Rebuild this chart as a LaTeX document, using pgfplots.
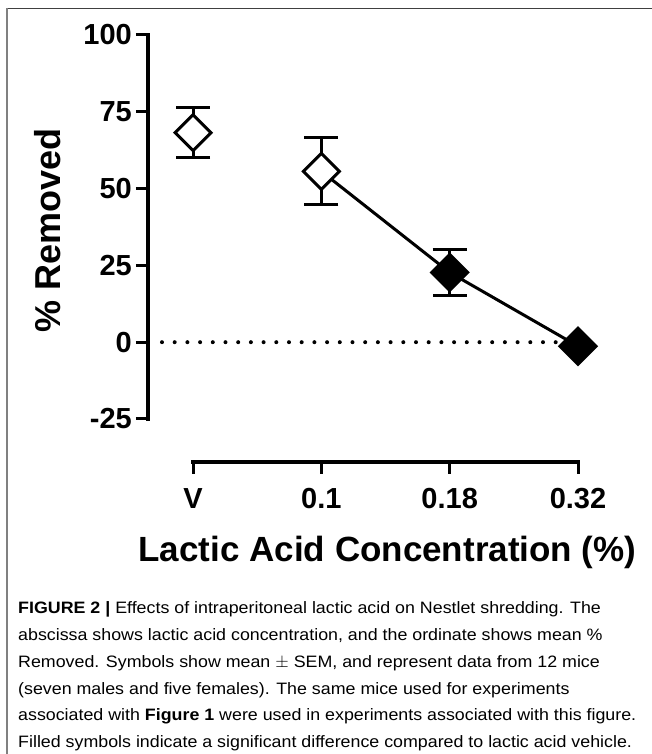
\documentclass[border=0pt]{standalone}
\usepackage{fontspec}
\setmainfont{Liberation Sans}
\newfontfamily\capfont{Liberation Sans}[FakeStretch=1.08]
\usepackage{pgfplots}
\pgfplotsset{compat=1.18}
\begin{document}
\begin{tikzpicture}
\useasboundingbox (0pt,0pt) rectangle (652pt,754pt);
% frame
\draw[line width=1.5pt, color=black!75] (7pt,745.5pt) -- (652pt,745.5pt);
\draw[line width=1.3pt, color=black!50] (7pt,746pt) -- (7pt,0pt);
\begin{axis}[
  at={(148pt,292pt)}, anchor=south west,
  scale only axis, width=430pt, height=427pt,
  xmin=-0.351, xmax=3, ymin=-39, ymax=100,
  axis x line*=bottom, axis y line*=left,
  x axis line style={line width=3.5pt, shorten <=45pt, line cap=rect},
  y axis line style={line width=3.5pt, shorten <=43pt, line cap=rect},
  xtick={0,1,2,3}, xticklabels={V,0.1,0.18,0.32},
  ytick={-25,0,25,50,75,100}, yticklabels={-25,0,25,50,75,100},
  tick align=outside, major tick length=12pt,
  tick style={line width=3pt, black},
  ticklabel style={font=\fontsize{29}{32}\selectfont\bfseries, inner sep=0pt},
  xticklabel style={yshift=-14pt},
  yticklabel style={xshift=-4pt},
  clip=false,
]
\addplot[black, line width=4pt, line cap=round, dash pattern=on 0pt off 12.7pt] coordinates {(-0.242,0) (2.84,0)};
\addplot[black, line width=3pt] coordinates {(1,55.6) (2,22.7) (3,-1.3)};
\addplot[black, only marks, mark=square*, mark size=12.7pt,
  mark options={rotate=45, fill=white, draw=black, line width=3pt},
  error bars/.cd, y dir=both, y explicit,
  error bar style={line width=3pt, black},
  error mark options={rotate=90, line width=3pt, mark size=17pt, black}]
  coordinates {(0,68.2) +- (0,8.2) (1,55.6) +- (0,10.9)};
\addplot[black, only marks, mark=square*, mark size=12.7pt,
  mark options={rotate=45, fill=black, draw=black, line width=3pt},
  error bars/.cd, y dir=both, y explicit,
  error bar style={line width=3pt, black},
  error mark options={rotate=90, line width=3pt, mark size=17pt, black}]
  coordinates {(2,22.7) +- (0,7.6)};
\addplot[black, only marks, mark=square*, mark size=12.7pt,
  mark options={rotate=45, fill=black, draw=black, line width=3pt}]
  coordinates {(3,-1.3)};
\end{axis}
\node[rotate=90, font=\fontsize{36}{40}\selectfont\bfseries, inner sep=0pt] at (48pt,524pt) {\% Removed};
\node[anchor=base, font=\fontsize{35}{40}\selectfont\bfseries, inner sep=0pt] at (387.5pt,192pt) {Lactic Acid Concentration (\%)};
\begin{scope}[every node/.style={anchor=base west, inner sep=0pt, font=\capfont\fontsize{16.5}{20}\selectfont}]
\node at (18pt,140pt) {\textbf{FIGURE 2 |} Effects of intraperitoneal lactic acid on Nestlet shredding. The};
\node at (18pt,113.3pt) {abscissa shows lactic acid concentration, and the ordinate shows mean \%};
\node at (18pt,86.6pt) {Removed. Symbols show mean $\pm$ SEM, and represent data from 12 mice};
\node at (18pt,59.9pt) {(seven males and five females). The same mice used for experiments};
\node at (18pt,33.2pt) {associated with \textbf{Figure 1} were used in experiments associated with this figure.};
\node at (18pt,6.5pt) {Filled symbols indicate a significant difference compared to lactic acid vehicle.};
\end{scope}
\end{tikzpicture}
\end{document}
